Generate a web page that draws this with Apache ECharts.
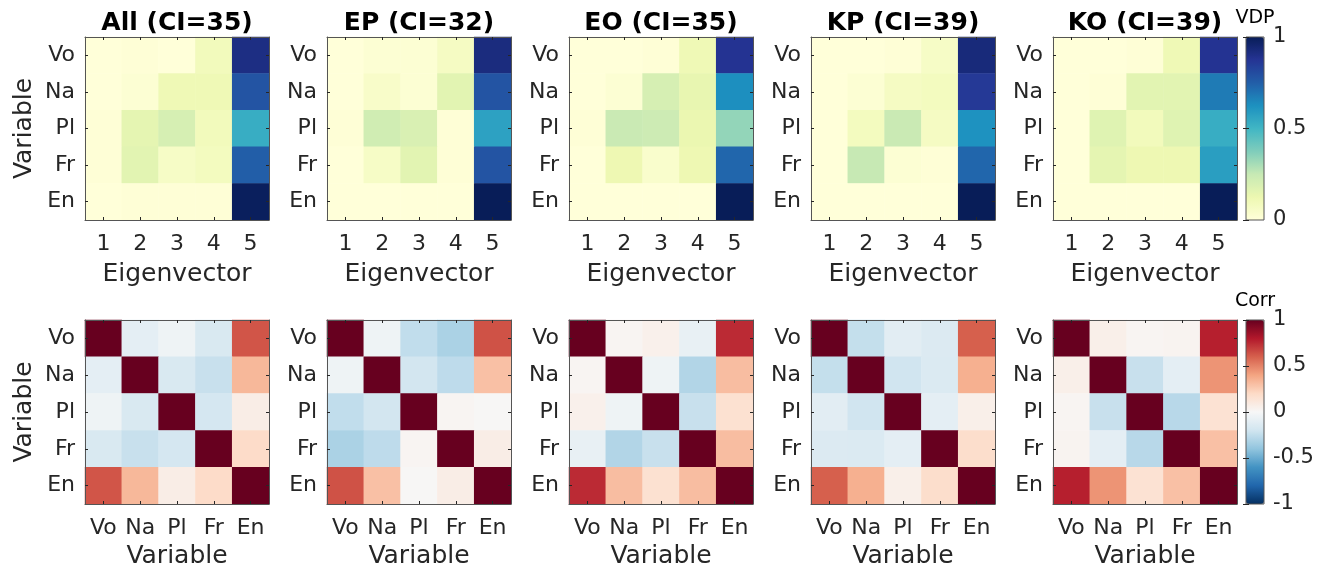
<!DOCTYPE html>
<html>
<head>
<meta charset="utf-8">
<script src="https://cdn.jsdelivr.net/npm/echarts@6/dist/echarts.min.js"></script>
<style>
html,body{margin:0;padding:0;background:#fff;}
#chart{width:1324px;height:573px;}
</style>
</head>
<body>
<div id="chart"></div>
<script>
// ---- data ----
const variables = ['Vo', 'Na', 'Pl', 'Fr', 'En'];
const eigenvectors = ['1', '2', '3', '4', '5'];
const panelTitles = ['All (CI=35)', 'EP (CI=32)', 'EO (CI=35)', 'KP (CI=39)', 'KO (CI=39)'];
const vdpTicks = [0, 0.5, 1];
const corrTicks = [-1, -0.5, 0, 0.5, 1];

// VDP matrices: rows = variables (Vo..En), columns = eigenvectors 1..5
const vdpAll = [
  [0.00, 0.01, 0.00, 0.09, 0.91],
  [0.00, 0.02, 0.11, 0.11, 0.78],
  [0.01, 0.15, 0.20, 0.09, 0.53],
  [0.01, 0.16, 0.06, 0.08, 0.75],
  [0.00, 0.01, 0.01, 0.01, 0.99]
];
const vdpEP = [
  [0.00, 0.02, 0.02, 0.07, 0.92],
  [0.00, 0.05, 0.02, 0.16, 0.78],
  [0.01, 0.22, 0.19, 0.01, 0.57],
  [0.00, 0.06, 0.16, 0.01, 0.78],
  [0.00, 0.00, 0.00, 0.00, 1.00]
];
const vdpEO = [
  [0.00, 0.00, 0.01, 0.11, 0.88],
  [0.00, 0.02, 0.20, 0.14, 0.63],
  [0.01, 0.24, 0.23, 0.13, 0.34],
  [0.00, 0.12, 0.04, 0.12, 0.73],
  [0.00, 0.00, 0.00, 0.00, 1.00]
];
const vdpKP = [
  [0.00, 0.00, 0.01, 0.06, 0.93],
  [0.00, 0.02, 0.07, 0.08, 0.86],
  [0.00, 0.08, 0.24, 0.07, 0.62],
  [0.00, 0.25, 0.02, 0.01, 0.73],
  [0.00, 0.00, 0.00, 0.00, 1.00]
];
const vdpKO = [
  [0.00, 0.00, 0.01, 0.11, 0.88],
  [0.00, 0.01, 0.16, 0.16, 0.68],
  [0.00, 0.17, 0.09, 0.17, 0.53],
  [0.00, 0.15, 0.12, 0.12, 0.58],
  [0.00, 0.00, 0.00, 0.00, 1.00]
];

// Correlation matrices: rows/cols = Vo, Na, Pl, Fr, En
const corrAll = [
  [1.00, -0.10, -0.05, -0.16, 0.63],
  [-0.10, 1.00, -0.16, -0.23, 0.33],
  [-0.05, -0.16, 1.00, -0.18, 0.07],
  [-0.16, -0.23, -0.18, 1.00, 0.19],
  [0.63, 0.33, 0.07, 0.19, 1.00]
];
const corrEP = [
  [1.00, -0.05, -0.25, -0.32, 0.64],
  [-0.05, 1.00, -0.19, -0.26, 0.30],
  [-0.25, -0.19, 1.00, 0.02, 0.01],
  [-0.32, -0.26, 0.02, 1.00, 0.07],
  [0.64, 0.30, 0.01, 0.07, 1.00]
];
const corrEO = [
  [1.00, 0.02, 0.05, -0.08, 0.75],
  [0.02, 1.00, -0.05, -0.30, 0.31],
  [0.05, -0.05, 1.00, -0.23, 0.16],
  [-0.08, -0.30, -0.23, 1.00, 0.31],
  [0.75, 0.31, 0.16, 0.31, 1.00]
];
const corrKP = [
  [1.00, -0.24, -0.11, -0.14, 0.60],
  [-0.24, 1.00, -0.20, -0.15, 0.36],
  [-0.11, -0.20, 1.00, -0.10, 0.06],
  [-0.14, -0.15, -0.10, 1.00, 0.18],
  [0.60, 0.36, 0.06, 0.18, 1.00]
];
const corrKO = [
  [1.00, 0.06, 0.02, 0.03, 0.78],
  [0.06, 1.00, -0.23, -0.10, 0.45],
  [0.02, -0.23, 1.00, -0.28, 0.15],
  [0.03, -0.10, -0.28, 1.00, 0.30],
  [0.78, 0.45, 0.15, 0.30, 1.00]
];

const vdpMatrices = [vdpAll, vdpEP, vdpEO, vdpKP, vdpKO];
const corrMatrices = [corrAll, corrEP, corrEO, corrKP, corrKO];

// ---- styles / layout ----
const FONT = 'DejaVu Sans';
const TXT = '#262626';
const FRAME = '#555555';
const colLefts = [85, 327, 569, 811, 1053];
const plotW = 184;
const rowTops = [37, 320];
const plotH = [183, 184];
const cbLeft = 1246, cbW = 18;

const ylgnbu = ['#ffffd9', '#edf8b1', '#c7e9b4', '#7fcdbb', '#41b6c4', '#1d91c0', '#225ea8', '#253494', '#081d58'];
const rdbu = ['#053061', '#2166ac', '#4393c3', '#92c5de', '#d1e5f0', '#f7f7f7', '#fddbc7', '#f4a582', '#d6604d', '#b2182b', '#67001f'];

function toCells(m) {
  const out = [];
  for (let r = 0; r < m.length; r++)
    for (let c = 0; c < m[r].length; c++)
      out.push([c, r, m[r][c]]);
  return out;
}

const grid = [], xAxis = [], yAxis = [], series = [], title = [];

function tickStyle() {
  return { show: true, inside: true, length: 3, alignWithLabel: true, lineStyle: { color: TXT, width: 1 } };
}

for (let row = 0; row < 2; row++) {
  for (let col = 0; col < 5; col++) {
    const gi = grid.length;
    grid.push({ left: colLefts[col], top: rowTops[row], width: plotW, height: plotH[row], containLabel: false });
    const xCats = row === 0 ? eigenvectors : variables;
    const xName = row === 0 ? 'Eigenvector' : 'Variable';
    xAxis.push({
      gridIndex: gi, type: 'category', data: xCats, position: 'bottom', z: 5,
      axisLine: { show: true, onZero: false, lineStyle: { color: FRAME, width: 1 } },
      axisTick: tickStyle(),
      axisLabel: { fontSize: 22, color: TXT, fontFamily: FONT, margin: 13, interval: 0 },
      name: xName, nameLocation: 'middle', nameGap: row === 0 ? 42 : 40,
      nameTextStyle: { fontSize: 25, color: TXT, fontFamily: FONT },
      splitLine: { show: false }
    });
    xAxis.push({
      gridIndex: gi, type: 'category', data: xCats, position: 'top', z: 5,
      axisLine: { show: true, onZero: false, lineStyle: { color: FRAME, width: 1 } },
      axisTick: tickStyle(), axisLabel: { show: false }, splitLine: { show: false }
    });
    yAxis.push({
      gridIndex: gi, type: 'category', data: variables, inverse: true, position: 'left', z: 5,
      axisLine: { show: true, onZero: false, lineStyle: { color: FRAME, width: 1 } },
      axisTick: tickStyle(),
      axisLabel: { fontSize: 22, color: TXT, fontFamily: FONT, margin: 10, interval: 0 },
      name: col === 0 ? 'Variable' : '', nameLocation: 'middle', nameGap: 48,
      nameTextStyle: { fontSize: 25, color: TXT, fontFamily: FONT },
      splitLine: { show: false }
    });
    yAxis.push({
      gridIndex: gi, type: 'category', data: variables, inverse: true, position: 'right', z: 5,
      axisLine: { show: true, onZero: false, lineStyle: { color: FRAME, width: 1 } },
      axisTick: tickStyle(), axisLabel: { show: false }, splitLine: { show: false }
    });
    series.push({
      type: 'heatmap',
      xAxisIndex: 2 * gi, yAxisIndex: 2 * gi,
      data: toCells(row === 0 ? vdpMatrices[col] : corrMatrices[col]),
      itemStyle: { borderWidth: 0 },
      emphasis: { disabled: true },
      label: { show: false }
    });
    if (row === 0) {
      title.push({
        text: panelTitles[col], left: colLefts[col] + plotW / 2, top: 11, textAlign: 'center', padding: 0,
        textStyle: { fontSize: 25, fontWeight: 'bold', color: '#000', fontFamily: FONT }
      });
    }
  }
}

// colorbar axes (tick labels + frame)
const cbDefs = [
  { top: rowTops[0], h: plotH[0], min: 0, max: 1, ticks: vdpTicks, label: 'VDP', labelTop: 9 },
  { top: rowTops[1], h: plotH[1], min: -1, max: 1, ticks: corrTicks, label: 'Corr', labelTop: 292 }
];
cbDefs.forEach(function (cb) {
  const gi = grid.length;
  grid.push({ left: cbLeft, top: cb.top, width: cbW, height: cb.h, show: true, z: 10,
    backgroundColor: 'transparent', borderColor: FRAME, borderWidth: 1 });
  xAxis.push({ gridIndex: gi, type: 'value', show: false, min: 0, max: 1 });
  xAxis.push({ gridIndex: gi, type: 'value', show: false, min: 0, max: 1 });
  const interval = cb.ticks[1] - cb.ticks[0];
  yAxis.push({
    gridIndex: gi, type: 'value', min: cb.min, max: cb.max, interval: interval, position: 'right', z: 12,
    axisLine: { show: false },
    axisTick: { show: true, inside: true, length: 3, lineStyle: { color: TXT } },
    axisLabel: { fontSize: 21, color: TXT, fontFamily: FONT, margin: 9 },
    splitLine: { show: false }
  });
  yAxis.push({
    gridIndex: gi, type: 'value', min: cb.min, max: cb.max, interval: interval, position: 'left', z: 12,
    axisLine: { show: false },
    axisTick: { show: true, inside: true, length: 3, lineStyle: { color: TXT } },
    axisLabel: { show: false }, splitLine: { show: false }
  });
  title.push({
    text: cb.label, left: cbLeft + cbW / 2, top: cb.labelTop, textAlign: 'center', padding: 0,
    textStyle: { fontSize: 19, fontWeight: 'normal', color: '#000', fontFamily: FONT }
  });
});

const visualMap = [
  {
    type: 'continuous', min: 0, max: 1, seriesIndex: [0, 1, 2, 3, 4],
    left: cbLeft, top: rowTops[0], itemWidth: cbW, itemHeight: plotH[0], padding: 0,
    calculable: false, realtime: false, hoverLink: false, text: null, showLabel: false,
    inRange: { color: ylgnbu }, z: 4
  },
  {
    type: 'continuous', min: -1, max: 1, seriesIndex: [5, 6, 7, 8, 9],
    left: cbLeft, top: rowTops[1], itemWidth: cbW, itemHeight: plotH[1], padding: 0,
    calculable: false, realtime: false, hoverLink: false, text: null, showLabel: false,
    inRange: { color: rdbu }, z: 4
  }
];

const chart = echarts.init(document.getElementById('chart'), null, { renderer: 'canvas' });
chart.setOption({
  animation: false,
  backgroundColor: '#ffffff',
  textStyle: { fontFamily: FONT },
  title: title,
  grid: grid,
  xAxis: xAxis,
  yAxis: yAxis,
  visualMap: visualMap,
  series: series
});
</script>
</body>
</html>
